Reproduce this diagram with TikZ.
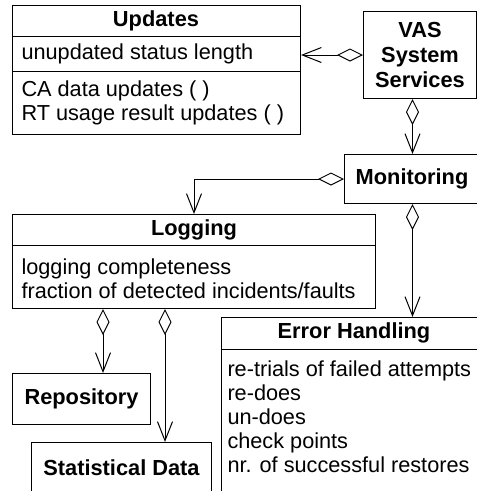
\documentclass[tikz,border=0pt]{standalone}
\usepackage{fontspec}
\setmainfont{Liberation Sans}
\usetikzlibrary{arrows.meta}
\begin{document}
\begin{tikzpicture}[x=1pt, y=-1pt, line width=1pt,
  box/.style={draw, rectangle, inner sep=0pt, anchor=north west},
  ttl/.style={font=\fontsize{21.8}{25}\selectfont\bfseries, inner sep=0pt},
  attr/.style={font=\fontsize{21.7}{24}\selectfont, align=left, anchor=west, inner sep=0pt},
  assoc/.style={draw, {Diamond[open,length=26pt,width=13pt]}-{Straight Barb[length=19pt,width=15pt]}},
]
\useasboundingbox (0,0) rectangle (477,491);
\clip (0,0) rectangle (477,491);

% Updates class
\node[box, minimum width=288pt, minimum height=129pt] (upd) at (12,5) {};
\draw ([yshift=-31pt]upd.north west) -- ([yshift=-31pt]upd.north east);
\draw ([yshift=-66pt]upd.north west) -- ([yshift=-66pt]upd.north east);
\node[ttl] (updT) at (156,20.5) {Updates};
\node[attr] (updA) at (21,54) {unupdated status length};
\node[attr] (updO) at (21,103) {CA data updates ( )\\RT usage result updates ( )};

% VAS System Services
\node[box, minimum width=113pt, minimum height=87pt] (vas) at (363,11) {};
\node[ttl, align=center] (vasT) at (vas.center) {VAS\\System\\Services};

% Monitoring
\node[box, minimum width=136pt, minimum height=49pt] (mon) at (344,154) {};
\node[ttl] (monT) at (412,178.5) {Monitoring};

% Logging class
\node[box, minimum width=363pt, minimum height=94pt] (log) at (12,214) {};
\draw ([yshift=-31pt]log.north west) -- ([yshift=-31pt]log.north east);
\node[ttl] (logT) at (log.north |- 0,229.5) {Logging};
\node[attr] (logA) at (21,279) {logging completeness\\fraction of detected incidents/faults};

% Repository
\node[box, minimum width=138pt, minimum height=51pt] (rep) at (12,373) {};
\node[ttl] (repT) at (rep.center) {Repository};

% Statistical Data
\node[box, minimum width=180pt, minimum height=51pt] (stat) at (31,442) {};
\node[ttl] (statT) at (stat.center) {Statistical Data};

% Error Handling class
\node[box, minimum width=266pt, minimum height=180pt] (err) at (221,317) {};
\draw ([yshift=-32pt]err.north west) -- ([yshift=-32pt]err.north east);
\node[ttl] (errT) at (354,333) {Error Handling};
\node[attr, anchor=north west] (errA) at (227,360)
  {re-trials of failed attempts\\re-does\\un-does\\check points\\nr. of successful restores};

% Aggregations
\draw[assoc] (vas.west) -- (vas.west -| upd.east);
\draw[assoc] (mon.north |- vas.south) -- (mon.north);
\draw[assoc] (mon.west) -| (log.north);
\draw[assoc] (mon.south) -- (mon.south |- err.north);
\draw[assoc] ([xshift=91pt]log.south west) -- ([xshift=91pt]log.south west |- rep.north);
\draw[assoc] ([xshift=153pt]log.south west) -- ([xshift=153pt]log.south west |- stat.north);
\end{tikzpicture}
\end{document}
